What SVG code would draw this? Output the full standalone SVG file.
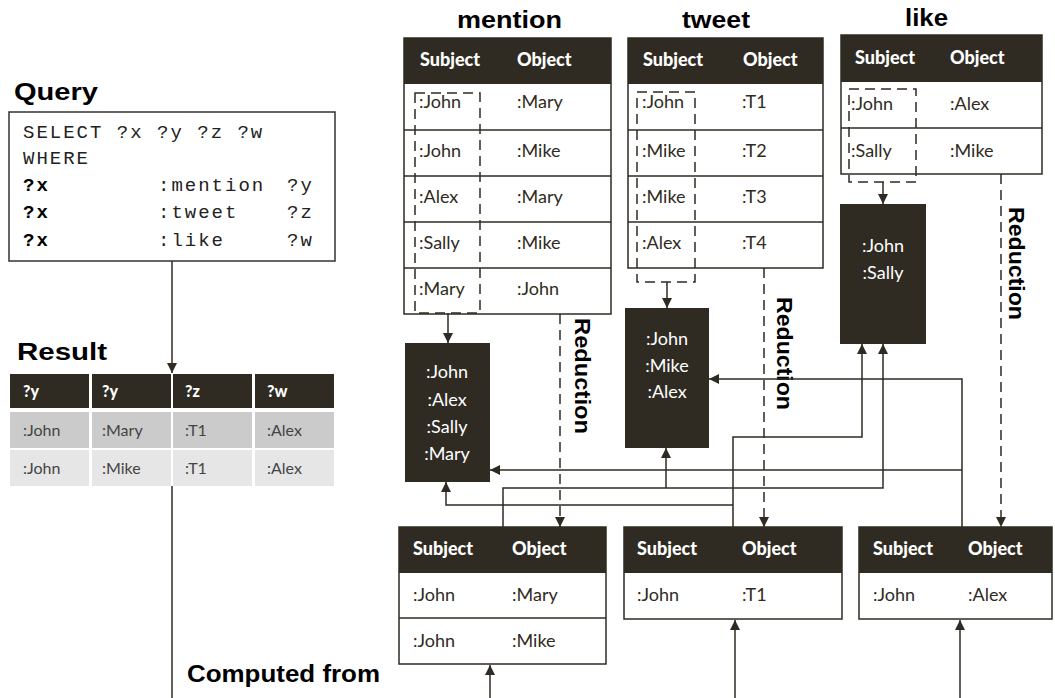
<svg xmlns="http://www.w3.org/2000/svg" width="1055" height="698" viewBox="0 0 1055 698">
<defs>
<style>
.title{font-family:"Liberation Sans",Arial,sans-serif;font-weight:bold;font-size:23px;fill:#000}
.mono{font-family:"Liberation Mono","Courier New",monospace;font-size:19px;letter-spacing:2px;fill:#222}
.monob{font-family:"Liberation Mono","Courier New",monospace;font-size:19px;letter-spacing:2px;font-weight:bold;fill:#000}
.hd{font-family:Lato,"Noto Sans",sans-serif;font-weight:900;font-size:18px;fill:#fff}
.cell{font-family:Lato,"Noto Sans",sans-serif;font-size:18px;fill:#2f2b22}
.rhd{font-family:Lato,"Noto Sans",sans-serif;font-weight:900;font-size:16px;fill:#fff}
.rcell{font-family:Lato,"Noto Sans",sans-serif;font-size:16px;fill:#444}
.box{font-family:Lato,"Noto Sans",sans-serif;font-size:18px;fill:#fff;text-anchor:middle}
.red{font-family:"Liberation Sans",Arial,sans-serif;font-weight:bold;font-size:22px;fill:#000}
.tbl{fill:#fff;stroke:#2f2b22;stroke-width:1.5}
.hdr{fill:#2f2b22}
.sep{stroke:#2f2b22;stroke-width:1.5}
.dbox{fill:none;stroke:#2f2b22;stroke-width:1.5;stroke-dasharray:10 6}
.dk{fill:#2f2b22}
.ln{fill:none;stroke:#2f2b22;stroke-width:1.5}
.arr{fill:none;stroke:#2f2b22;stroke-width:1.5;marker-end:url(#ah)}
.darr{fill:none;stroke:#2f2b22;stroke-width:1.5;stroke-dasharray:10 6;marker-end:url(#ah)}
</style>
<marker id="ah" markerUnits="userSpaceOnUse" markerWidth="11" markerHeight="10" refX="10" refY="5" orient="auto">
<path d="M0,0 L10,5 L0,10 z" fill="#2f2b22"/>
</marker>
</defs>
<rect width="1055" height="698" fill="#fff"/>

<g id="query">
<text class="title" x="14" y="100" textLength="84" lengthAdjust="spacingAndGlyphs">Query</text>
<rect x="9" y="112" width="326" height="149" fill="#fff" stroke="#333" stroke-width="1.5"/>
<text class="mono" x="23" y="138">SELECT ?x ?y ?z ?w</text>
<text class="mono" x="23" y="164">WHERE</text>
<text class="monob" x="23" y="191">?x</text><text class="mono" x="158" y="191">:mention</text><text class="mono" x="287" y="191">?y</text>
<text class="monob" x="23" y="218">?x</text><text class="mono" x="158" y="218">:tweet</text><text class="mono" x="287" y="218">?z</text>
<text class="monob" x="23" y="246">?x</text><text class="mono" x="158" y="246">:like</text><text class="mono" x="287" y="246">?w</text>
</g>

<g id="result">
<text class="title" x="17" y="360" textLength="90" lengthAdjust="spacingAndGlyphs">Result</text>
<rect class="hdr" x="10" y="374" width="79" height="34"/>
<rect class="hdr" x="92" y="374" width="79" height="34"/>
<rect class="hdr" x="173" y="374" width="79" height="34"/>
<rect class="hdr" x="255" y="374" width="79" height="34"/>
<rect x="10" y="412" width="79" height="36" fill="#cbcbcb"/>
<rect x="92" y="412" width="79" height="36" fill="#cbcbcb"/>
<rect x="173" y="412" width="79" height="36" fill="#cbcbcb"/>
<rect x="255" y="412" width="79" height="36" fill="#cbcbcb"/>
<rect x="10" y="450" width="79" height="36" fill="#e6e6e6"/>
<rect x="92" y="450" width="79" height="36" fill="#e6e6e6"/>
<rect x="173" y="450" width="79" height="36" fill="#e6e6e6"/>
<rect x="255" y="450" width="79" height="36" fill="#e6e6e6"/>
<text class="rhd" x="23" y="397">?y</text><text class="rhd" x="102" y="397">?y</text><text class="rhd" x="185" y="397">?z</text><text class="rhd" x="267" y="397">?w</text>
<text class="rcell" x="23" y="436">:John</text><text class="rcell" x="102" y="436">:Mary</text><text class="rcell" x="185" y="436">:T1</text><text class="rcell" x="267" y="436">:Alex</text>
<text class="rcell" x="23" y="474">:John</text><text class="rcell" x="102" y="474">:Mike</text><text class="rcell" x="185" y="474">:T1</text><text class="rcell" x="267" y="474">:Alex</text>
</g>

<g id="computed-from">
<text class="title" x="187" y="682" textLength="193" lengthAdjust="spacingAndGlyphs">Computed from</text>
</g>

<g id="mention-table">
<text class="title" x="457" y="28" textLength="105" lengthAdjust="spacingAndGlyphs">mention</text>
<rect class="tbl" x="404" y="38" width="207" height="276"/>
<rect class="hdr" x="404" y="38" width="207" height="46"/>
<line class="sep" x1="404" y1="130" x2="611" y2="130"/>
<line class="sep" x1="404" y1="176" x2="611" y2="176"/>
<line class="sep" x1="404" y1="222" x2="611" y2="222"/>
<line class="sep" x1="404" y1="268" x2="611" y2="268"/>
<text class="hd" x="420" y="66">Subject</text><text class="hd" x="517" y="66">Object</text>
<text class="cell" x="419" y="108">:John</text><text class="cell" x="517" y="108">:Mary</text>
<text class="cell" x="419" y="157">:John</text><text class="cell" x="517" y="157">:Mike</text>
<text class="cell" x="419" y="203">:Alex</text><text class="cell" x="517" y="203">:Mary</text>
<text class="cell" x="419" y="249">:Sally</text><text class="cell" x="517" y="249">:Mike</text>
<text class="cell" x="419" y="295">:Mary</text><text class="cell" x="517" y="295">:John</text>
<rect class="dbox" x="415" y="93" width="65" height="220"/>
</g>

<g id="tweet-table">
<text class="title" x="682" y="28" textLength="68" lengthAdjust="spacingAndGlyphs">tweet</text>
<rect class="tbl" x="628" y="38" width="195" height="230"/>
<rect class="hdr" x="628" y="38" width="195" height="46"/>
<line class="sep" x1="628" y1="130" x2="823" y2="130"/>
<line class="sep" x1="628" y1="176" x2="823" y2="176"/>
<line class="sep" x1="628" y1="222" x2="823" y2="222"/>
<text class="hd" x="643" y="66">Subject</text><text class="hd" x="743" y="66">Object</text>
<text class="cell" x="642" y="108">:John</text><text class="cell" x="742" y="108">:T1</text>
<text class="cell" x="642" y="157">:Mike</text><text class="cell" x="742" y="157">:T2</text>
<text class="cell" x="642" y="203">:Mike</text><text class="cell" x="742" y="203">:T3</text>
<text class="cell" x="642" y="249">:Alex</text><text class="cell" x="742" y="249">:T4</text>
<rect class="dbox" x="637" y="92" width="58" height="190"/>
</g>

<g id="like-table">
<text class="title" x="905" y="26" textLength="43" lengthAdjust="spacingAndGlyphs">like</text>
<rect class="tbl" x="841" y="35" width="201" height="139"/>
<rect class="hdr" x="841" y="35" width="201" height="47"/>
<line class="sep" x1="841" y1="128" x2="1042" y2="128"/>
<text class="hd" x="855" y="64">Subject</text><text class="hd" x="950" y="64">Object</text>
<text class="cell" x="851" y="110">:John</text><text class="cell" x="950" y="110">:Alex</text>
<text class="cell" x="851" y="157">:Sally</text><text class="cell" x="950" y="157">:Mike</text>
<rect class="dbox" x="849" y="89" width="67" height="93"/>
</g>

<g id="mention-subjects">
<rect class="dk" x="405" y="343" width="85" height="139"/>
<text class="box" x="447" y="378">:John</text>
<text class="box" x="447" y="406">:Alex</text>
<text class="box" x="447" y="433">:Sally</text>
<text class="box" x="447" y="460">:Mary</text>
</g>

<g id="tweet-subjects">
<rect class="dk" x="625" y="308" width="84" height="140"/>
<text class="box" x="667" y="345">:John</text>
<text class="box" x="667" y="372">:Mike</text>
<text class="box" x="667" y="398">:Alex</text>
</g>

<g id="like-subjects">
<rect class="dk" x="840" y="204" width="86" height="140"/>
<text class="box" x="883" y="252">:John</text>
<text class="box" x="883" y="279">:Sally</text>
</g>

<g id="mention-reduced">
<rect class="tbl" x="399" y="527" width="207" height="137"/>
<rect class="hdr" x="399" y="527" width="207" height="46"/>
<line class="sep" x1="399" y1="618" x2="606" y2="618"/>
<text class="hd" x="413" y="555">Subject</text><text class="hd" x="512" y="555">Object</text>
<text class="cell" x="413" y="601">:John</text><text class="cell" x="512" y="601">:Mary</text>
<text class="cell" x="413" y="647">:John</text><text class="cell" x="512" y="647">:Mike</text>
</g>

<g id="tweet-reduced">
<rect class="tbl" x="624" y="527" width="218" height="92"/>
<rect class="hdr" x="624" y="527" width="218" height="46"/>
<text class="hd" x="637" y="555">Subject</text><text class="hd" x="742" y="555">Object</text>
<text class="cell" x="637" y="601">:John</text><text class="cell" x="742" y="601">:T1</text>
</g>

<g id="like-reduced">
<rect class="tbl" x="859" y="527" width="193" height="92"/>
<rect class="hdr" x="859" y="527" width="193" height="46"/>
<text class="hd" x="873" y="555">Subject</text><text class="hd" x="968" y="555">Object</text>
<text class="cell" x="873" y="601">:John</text><text class="cell" x="968" y="601">:Alex</text>
</g>

<g id="labels">
<text class="red" transform="translate(575,318) rotate(90)" textLength="116" lengthAdjust="spacingAndGlyphs">Reduction</text>
<text class="red" transform="translate(777,297) rotate(90)" textLength="113" lengthAdjust="spacingAndGlyphs">Reduction</text>
<text class="red" transform="translate(1009,207) rotate(90)" textLength="113" lengthAdjust="spacingAndGlyphs">Reduction</text>
</g>

<g id="connectors">
<path class="arr" d="M172,261 V373"/>
<path class="ln" d="M172,486 V698"/>
<path class="arr" d="M448,313 V343"/>
<path class="arr" d="M667,282 V308"/>
<path class="arr" d="M883,182 V204"/>
<path class="darr" d="M560,314 V527"/>
<path class="darr" d="M764,268 V527"/>
<path class="darr" d="M1001,174 V527"/>
<path class="arr" d="M490,698 V665"/>
<path class="arr" d="M735,698 V620"/>
<path class="arr" d="M960,698 V620"/>
<path class="arr" d="M503,527 V488 H883 V344"/>
<path class="arr" d="M666,488 V448"/>
<path class="arr" d="M733,527 V437 H862 V344"/>
<path class="arr" d="M733,505 H446 V482"/>
<path class="arr" d="M962,527 V379 H709"/>
<path class="arr" d="M962,470 H490"/>
</g>
</svg>
